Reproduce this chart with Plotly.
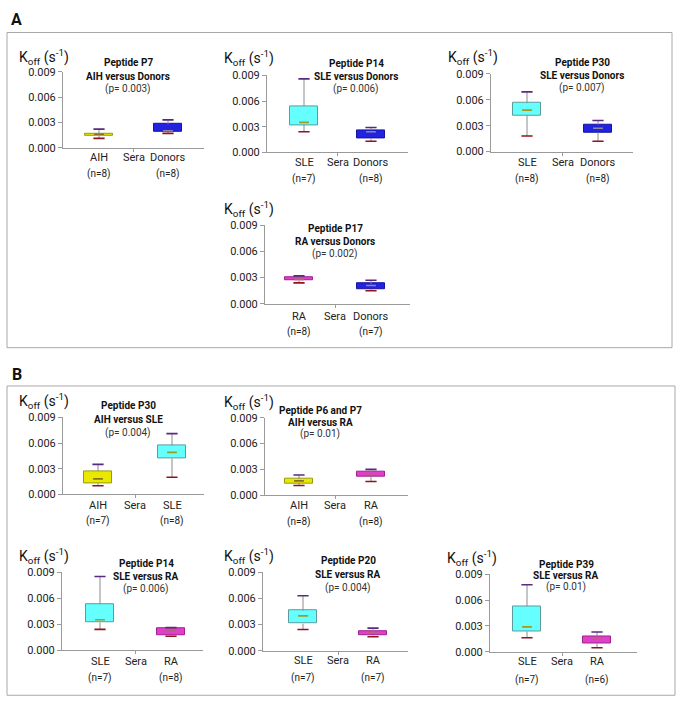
import plotly.graph_objects as go

W, H = 683, 716
FONT = "Roboto, Arial, sans-serif"

# ---------------- data ----------------
PEPTIDES = ["Peptide P7", "Peptide P14", "Peptide P30", "Peptide P17", "Peptide P30",
            "Peptide P6 and P7", "Peptide P14", "Peptide P20", "Peptide P39"]
GROUPS_LEFT = ["AIH", "SLE", "SLE", "RA", "AIH", "AIH", "SLE", "SLE", "SLE"]
GROUPS_RIGHT = ["Donors", "Donors", "Donors", "Donors", "SLE", "RA", "RA", "RA", "RA"]
MIDDLE_LABEL = "Sera"
P_TEXT = ["0.003", "0.006", "0.007", "0.002", "0.004", "0.01", "0.006", "0.004", "0.01"]
N_LEFT = [8, 7, 8, 8, 7, 8, 7, 7, 7]
N_RIGHT = [8, 8, 8, 7, 8, 8, 8, 7, 6]

LO_LEFT = [0.0011, 0.0024, 0.0018, 0.0024, 0.0010, 0.00114, 0.0024, 0.00244, 0.00164]
Q1_LEFT = [0.0014, 0.0032, 0.0042, 0.00266, 0.0013, 0.0014, 0.0032, 0.0031, 0.00236]
MED_LEFT = [0.0016, 0.0035, 0.0048, 0.0028, 0.0018, 0.00167, 0.0035, 0.0040, 0.0029]
Q3_LEFT = [0.0017, 0.0054, 0.0056, 0.0030, 0.0027, 0.0019, 0.0053, 0.0046, 0.0053]
HI_LEFT = [0.0022, 0.0086, 0.0069, 0.0032, 0.0035, 0.00235, 0.0085, 0.0063, 0.0078]

LO_RIGHT = [0.0017, 0.0013, 0.0012, 0.0015, 0.0020, 0.0016, 0.0016, 0.0016, 0.00046]
Q1_RIGHT = [0.0019, 0.0016, 0.0022, 0.0017, 0.0042, 0.0022, 0.0017, 0.00176, 0.0010]
MED_RIGHT = [0.0020, 0.0024, 0.0027, 0.0021, 0.0049, 0.0025, 0.0022, 0.0020, 0.00145]
Q3_RIGHT = [0.0028, 0.0026, 0.0031, 0.0023, 0.0057, 0.0027, 0.0025, 0.00225, 0.0018]
HI_RIGHT = [0.0033, 0.0029, 0.0036, 0.0027, 0.0071, 0.0030, 0.0026, 0.0026, 0.0023]

Y_TICKS = [0.0, 0.003, 0.006, 0.009]

# ---------------- styles / geometry (pixels) ----------------
FILL = {"AIH": "#e8e800", "SLE": "#66ffff", "Donors": "#2222e0", "RA": "#e040c8"}
EDGE = {"AIH": "#9a9a10", "SLE": "#5c9c9c", "Donors": "#1414a0", "RA": "#a02090"}
MEDC = {"AIH": "#8a7020", "SLE": "#a09a20", "Donors": "#8a8aa8", "RA": "#b06a60"}
AXC = "#9a9a9a"

AX_L = [63, 267, 491, 265, 63, 265, 62, 263, 490]
AX_R = [204, 408, 633, 410, 204, 408, 203, 408, 637]
Y_TOP = [67, 70.7, 69, 223.3, 419, 419.3, 576.7, 576.7, 579]
Y_BOT = [144.3, 149, 148.3, 303.3, 497.3, 498.3, 656, 656.7, 657.7]
CAT0 = [99, 304, 527, 299, 98, 299, 100, 303, 527]
CAT2 = [168, 371, 598, 371, 172, 371, 171, 373, 597]
TITLE_X = [128, 356, 582, 335, 128, 320, 146, 348, 566]
TITLE_Y = [58, 59, 58, 226.7, 407, 411.7, 568, 565, 569]
TITLE_DY = [13.5, 13, 13, 13, 14, 12, 13, 14, 11.5]
KLAB_X = [17, 222, 446, 222, 17, 222, 17, 222, 445]
KLAB_Y = [52, 53, 52, 207, 402, 403, 560, 560, 562]
XLAB_Y = [154, 159, 159, 316, 509, 509, 668, 667, 668]
NLAB_Y = [171, 176, 176, 332, 525, 526, 684, 684, 686]
BOX_PX = 28.5


def px(x):
    return x / W


def py(y):
    return 1 - y / H


fig = go.Figure()
annotations = []

for i in range(9):
    k = "" if i == 0 else str(i + 1)
    xa, ya = "x" + k, "y" + k
    unit = (CAT2[i] - CAT0[i]) / 2.0
    gl, gr = GROUPS_LEFT[i], GROUPS_RIGHT[i]
    bw = BOX_PX / unit

    fig.add_trace(go.Bar(
        x=[0, 2], base=[Q1_LEFT[i], Q1_RIGHT[i]],
        y=[Q3_LEFT[i] - Q1_LEFT[i], Q3_RIGHT[i] - Q1_RIGHT[i]],
        width=bw,
        marker=dict(color=[FILL[gl], FILL[gr]], line=dict(color=[EDGE[gl], EDGE[gr]], width=1)),
        xaxis=xa, yaxis=ya, showlegend=False, hoverinfo="skip"))
    fig.add_trace(go.Scatter(
        x=[0, 0, None, 0, 0, None, 2, 2, None, 2, 2],
        y=[HI_LEFT[i], Q3_LEFT[i], None, Q1_LEFT[i], LO_LEFT[i], None,
           HI_RIGHT[i], Q3_RIGHT[i], None, Q1_RIGHT[i], LO_RIGHT[i]],
        mode="lines", line=dict(color="#8c8c8c", width=1),
        xaxis=xa, yaxis=ya, showlegend=False, hoverinfo="skip"))
    fig.add_trace(go.Scatter(
        x=[0, 2], y=[HI_LEFT[i], HI_RIGHT[i]], mode="markers",
        marker=dict(symbol="line-ew", size=8, line=dict(color="#5a2a80", width=1.6)),
        xaxis=xa, yaxis=ya, showlegend=False, hoverinfo="skip"))
    fig.add_trace(go.Scatter(
        x=[0, 2], y=[LO_LEFT[i], LO_RIGHT[i]], mode="markers",
        marker=dict(symbol="line-ew", size=8, line=dict(color="#8b1420", width=1.6)),
        xaxis=xa, yaxis=ya, showlegend=False, hoverinfo="skip"))
    fig.add_trace(go.Scatter(
        x=[0, 2], y=[MED_LEFT[i], MED_RIGHT[i]], mode="markers",
        marker=dict(symbol="line-ew", size=7, line=dict(color=[MEDC[gl], MEDC[gr]], width=1.6)),
        xaxis=xa, yaxis=ya, showlegend=False, hoverinfo="skip"))

    fig.update_layout(**{
        "xaxis" + k: dict(domain=[px(AX_L[i]), px(AX_R[i])],
                          range=[(AX_L[i] - CAT0[i]) / unit, (AX_R[i] - CAT0[i]) / unit],
                          anchor=ya, showline=True, linecolor=AXC, linewidth=1,
                          tickvals=[1], ticks="outside", ticklen=3, tickcolor=AXC,
                          showticklabels=False, showgrid=False, zeroline=False, fixedrange=True),
        "yaxis" + k: dict(domain=[py(Y_BOT[i]), py(Y_TOP[i])], range=[0, 0.009],
                          anchor=xa, showline=True, linecolor=AXC, linewidth=1,
                          tickvals=Y_TICKS, tickformat=".3f", ticks="outside", ticklen=4,
                          tickcolor=AXC, tickfont=dict(size=11, color="#222", family=FONT),
                          showgrid=False, zeroline=False, fixedrange=True),
    })

    # titles
    lines = ["<b>%s</b>" % PEPTIDES[i], "<b>%s versus %s</b>" % (gl, gr), "(p= %s)" % P_TEXT[i]]
    for j, t in enumerate(lines):
        annotations.append(dict(x=px(TITLE_X[i]), y=py(TITLE_Y[i] + j * TITLE_DY[i]),
                                xref="paper", yref="paper", text=t, showarrow=False,
                                xanchor="center", yanchor="middle",
                                font=dict(size=10, family=FONT,
                                          color="#111" if j < 2 else "#333")))
    annotations.append(dict(x=px(KLAB_X[i]), y=py(KLAB_Y[i]), xref="paper", yref="paper",
                            text="K<sub>off</sub> (s<sup>-1</sup>)", showarrow=False,
                            xanchor="left", yanchor="middle",
                            font=dict(size=14, family=FONT, color="#111")))
    for xv, lab in zip([0, 1, 2], [gl, MIDDLE_LABEL, gr]):
        annotations.append(dict(x=xv, y=py(XLAB_Y[i]), xref=xa, yref="paper", text=lab,
                                showarrow=False, xanchor="center", yanchor="middle",
                                font=dict(size=11, family=FONT, color="#222")))
    for xv, n in zip([0, 2], [N_LEFT[i], N_RIGHT[i]]):
        annotations.append(dict(x=xv, y=py(NLAB_Y[i]), xref=xa, yref="paper", text="(n=%d)" % n,
                                showarrow=False, xanchor="center", yanchor="middle",
                                font=dict(size=10, family=FONT, color="#222")))

annotations.append(dict(x=px(16), y=py(14), xref="paper", yref="paper", text="<b>A</b>",
                        showarrow=False, xanchor="center", yanchor="middle",
                        font=dict(size=16, family=FONT, color="#111")))
annotations.append(dict(x=px(17), y=py(375), xref="paper", yref="paper", text="<b>B</b>",
                        showarrow=False, xanchor="center", yanchor="middle",
                        font=dict(size=16, family=FONT, color="#111")))

shapes = [
    dict(type="rect", xref="paper", yref="paper", x0=px(7), x1=px(672), y0=py(348), y1=py(27),
         line=dict(color="#a8a8a8", width=1)),
    dict(type="rect", xref="paper", yref="paper", x0=px(7), x1=px(675), y0=py(702), y1=py(387),
         line=dict(color="#a8a8a8", width=1)),
]

fig.update_layout(width=W, height=H, autosize=False, margin=dict(l=0, r=0, t=0, b=0),
                  paper_bgcolor="white", plot_bgcolor="rgba(0,0,0,0)",
                  font=dict(family=FONT), annotations=annotations, shapes=shapes,
                  barmode="overlay", bargap=0)

fig.write_html("out.html", config={"displayModeBar": False},
               post_script="document.body.style.margin='0';document.body.style.padding='0';")
